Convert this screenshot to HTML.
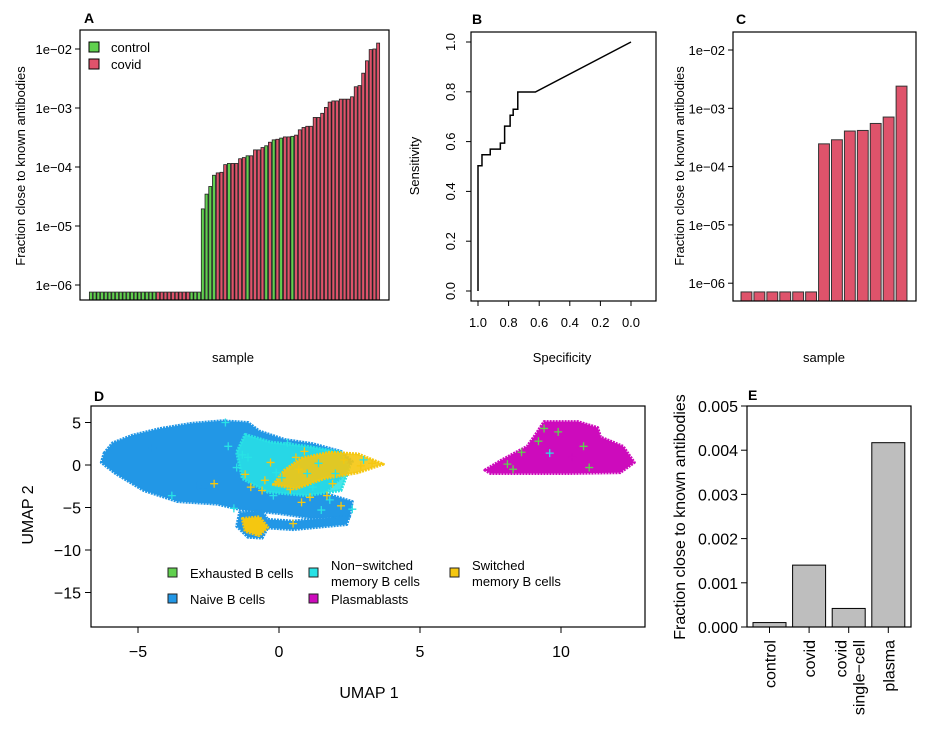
<!DOCTYPE html>
<html><head><meta charset="utf-8"><style>
html,body{margin:0;padding:0;background:#fff}
svg{display:block;font-family:"Liberation Sans",Arial,sans-serif}
</style></head><body>
<svg id="fig" width="932" height="731" viewBox="0 0 932 731" xmlns="http://www.w3.org/2000/svg">
<rect width="932" height="731" fill="#fff"/>
</svg>
<script>
// ---------- DATA ----------
const aBaseCount = 30;
const aBaseLog = -6.12;
const aBaseColors = "GGGGGGGGGGGGGGGGGGRRRRRRRRRGGG";
const aRiseLog = [-4.71,-4.46,-4.33,-4.14,-4.10,-4.09,-3.96,-3.94,-3.94,-3.94,-3.86,-3.84,-3.81,-3.81,-3.71,-3.71,-3.67,-3.64,-3.58,-3.54,-3.53,-3.51,-3.49,-3.49,-3.48,-3.46,-3.37,-3.33,-3.31,-3.31,-3.16,-3.16,-3.09,-2.99,-2.90,-2.88,-2.88,-2.85,-2.85,-2.85,-2.81,-2.64,-2.62,-2.41,-2.20,-2.01,-2.00,-1.90];
const aRiseColors = "GGGGRRRGRRRRGRRRRGRGRGRRGRRRRRRRRRRRRRRRRRRRRRRR";
const logTicks = [-2,-3,-4,-5,-6];
const logTickLabels = ["1e\u221202","1e\u221203","1e\u221204","1e\u221205","1e\u221206"];
const rocSpec = [1,1,0.974,0.974,0.92,0.92,0.854,0.854,0.826,0.826,0.79,0.79,0.77,0.77,0.74,0.74,0.625,0];
const rocSens = [0,0.503,0.503,0.547,0.547,0.57,0.57,0.594,0.594,0.662,0.662,0.706,0.706,0.73,0.73,0.799,0.799,1];
const bTicks = [0,0.2,0.4,0.6,0.8,1.0];
const bTickLabels = ["0.0","0.2","0.4","0.6","0.8","1.0"];
const cLog = [-6.15,-6.15,-6.15,-6.15,-6.15,-6.15,-3.61,-3.54,-3.39,-3.38,-3.26,-3.15,-2.62];
const dXTicks = [-5,0,5,10];
const dYTicks = [5,0,-5,-10,-15];
const blueBlob = [[-6.2,1.4],[-5.9,2.6],[-5.2,3.5],[-4.2,4.3],[-3.1,4.9],[-2,5.2],[-1.1,5],[-0.7,4],[0.2,3],[1.2,2.5],[2.2,1.6],[2.6,0.4],[2.2,-1.5],[1.6,-3.3],[2.6,-4.3],[2.5,-6.1],[1.2,-6.3],[0,-5.7],[-1.3,-5.3],[-2.2,-4.6],[-3.6,-4.3],[-4.8,-3],[-5.8,-1],[-6.3,0.3]];
const lowerLoop = [[-1.4,-5.6],[-0.6,-5.4],[-0.4,-6.4],[0.5,-6.6],[2.5,-6.0],[2.4,-7.0],[0.5,-7.6],[-0.4,-7.4],[-0.6,-8.6],[-1.1,-8.5],[-1.5,-7.2]];
const cyanBlob = [[-1.2,3.6],[-0.3,2.7],[1,2.2],[2.2,1.5],[2.5,-0.3],[2.2,-3.0],[1,-3.6],[-0.4,-3.2],[-1.3,-1.6],[-1.5,1.5]];
const yellowBlob = [[0.8,0.8],[1.8,1.5],[2.8,1.3],[3.7,0.1],[2.8,-0.9],[1.6,-1.6],[0.6,-2.8],[-0.2,-2.3],[0.2,-0.6]];
const yellowLower = [[-1.3,-6.3],[-0.7,-6.1],[-0.4,-7.3],[-0.7,-8.3],[-1.2,-7.8]];
const magentaBlob = [[7.3,-0.6],[7.9,0.6],[8.8,2.2],[9.1,3.6],[9.4,5.1],[10.6,5.1],[11.3,4.4],[11.4,3.3],[12.2,2.2],[12.6,0.3],[12.1,-0.9],[10.2,-1],[8.6,-1],[7.5,-1]];
const plusX = [-2.3,-1.8,-1.2,-0.6,0.1,0.7,1.2,1.8,2.3,-0.9,-0.2,0.5,1.5,2.9,-1.1,0.9,3.3,-0.8,-1.3,1.1,-2.9,-1.6,0.3,2.0,8.1,8.6,9.2,9.9,10.4,11.0,8.3,9.6,10.8,7.6,9.4,-3.8,-1.9,-0.5,0.4,1.0,1.9,-1.5,-0.3,0.8,1.4,2.6,-1.0,-0.1,0.6,1.7,-0.6,2.2,3.0,-2.7,-4.5];
const plusY = [-2.2,2.2,-1.1,-3.0,-1.5,-0.5,-2.6,-4.1,0.6,-6.8,-3.6,-6.9,-5.3,-0.1,0.9,1.6,0.2,-7.9,1.2,-3.8,-2.4,-5.1,2.6,-1.0,0.1,1.5,2.8,3.9,0.9,-0.3,-0.5,1.4,2.2,-0.6,4.3,-3.6,5.0,-1.8,-2.9,-1.0,-2.2,-0.3,0.3,-4.4,0.2,-5.2,-2.6,-0.9,0.9,-3.6,-7.2,-4.8,0.6,-2.8,2.0];
const plusCat = "YCYYCYCCYYCYCYCYYYCYBCCCGGGGMGGCGMGCCYYCYCYYCCYCYYYYCBB";
const legendD = ["Exhausted B cells","Naive B cells","Non\u2212switched","memory B cells","Plasmablasts","Switched","memory B cells"];
const eCats = ["control","covid","covid single\u2212cell","plasma"];
const eVals = [0.0001,0.0014,0.00042,0.00417];
const eTicks = [0,0.001,0.002,0.003,0.004,0.005];
const eTickLabels = ["0.000","0.001","0.002","0.003","0.004","0.005"];

const COL = {G:"#61D04F",R:"#DF536B",B:"#2297E6",C:"#28E2E5",M:"#CD0BBC",Y:"#F5C710"};
const svg = document.getElementById('fig');
const NS = "http://www.w3.org/2000/svg";
function mk(tag, attrs, parent){ const e=document.createElementNS(NS,tag); for(const k in attrs) e.setAttribute(k,attrs[k]); (parent||svg).appendChild(e); return e; }
function txt(s, x, y, size, opts, parent){ const e=mk('text',Object.assign({x:x,y:y,'font-size':size,fill:'#000'},opts||{}),parent); e.textContent=s; return e; }
function group(name){ const g=mk('g',{});   return g; }

// ---------- PANEL A ----------
(function(){
  const g = group('panel-a');
  const L=80,R=389,T=30,B=300;
  const ya = v => 49 + (-2 - v)*59;
  const n = aBaseCount + aRiseLog.length;
  const x0=89, x1=380, slot=(x1-x0)/n;
  for(let i=0;i<n;i++){
    const v = i<aBaseCount ? aBaseLog : aRiseLog[i-aBaseCount];
    const c = i<aBaseCount ? aBaseColors[i] : aRiseColors[i-aBaseCount];
    const r = mk('rect',{x:x0+i*slot+slot*0.1,y:ya(v),width:slot*0.8,height:B-ya(v),fill:COL[c],stroke:'#222','stroke-width':0.8},g);
    
    
  }
  mk('rect',{x:L,y:T,width:R-L,height:B-T,fill:'none',stroke:'#000','stroke-width':1.2},g);
  logTicks.forEach((t,i)=>{ mk('line',{x1:L-5,x2:L,y1:ya(t),y2:ya(t),stroke:'#000'},g); txt(logTickLabels[i],L-8,ya(t)+5,13,{'text-anchor':'end'},g); });
  txt('Fraction close to known antibodies',0,0,13,{'text-anchor':'middle',transform:'translate(25,166) rotate(-90)'},g);
  txt('sample',233,362,13,{'text-anchor':'middle'},g);
  txt('A',84,23,14,{'font-weight':'bold'},g);
  mk('rect',{x:89,y:42,width:10,height:10,fill:COL.G,stroke:'#000'},g);
  mk('rect',{x:89,y:59,width:10,height:10,fill:COL.R,stroke:'#000'},g);
  txt('control',111,52,13,{},g);
  txt('covid',111,69,13,{},g);
})();

// ---------- PANEL B ----------
(function(){
  const g = group('panel-b');
  const L=471,R=656,T=32,B=301;
  const xb = s => 478 + (1-s)*153;
  const yb = v => 291 - v*249;
  mk('rect',{x:L,y:T,width:R-L,height:B-T,fill:'none',stroke:'#000','stroke-width':1.2},g);
  let d=''; rocSpec.forEach((s,i)=>{ d += (i?'L':'M')+xb(s)+' '+yb(rocSens[i]); });
  const p = mk('path',{d:d,fill:'none',stroke:'#000','stroke-width':1.5},g);
  
  
  bTicks.forEach((t,i)=>{
    mk('line',{x1:L-5,x2:L,y1:yb(t),y2:yb(t),stroke:'#000'},g);
    txt(bTickLabels[i],0,0,13,{'text-anchor':'middle',transform:`translate(${L-16},${yb(t)}) rotate(-90)`},g);
    mk('line',{x1:xb(t),x2:xb(t),y1:B,y2:B+5,stroke:'#000'},g);
    txt(bTickLabels[i],xb(t),B+26,13,{'text-anchor':'middle'},g);
  });
  txt('Sensitivity',0,0,13,{'text-anchor':'middle',transform:'translate(419,166) rotate(-90)'},g);
  txt('Specificity',562,362,13,{'text-anchor':'middle'},g);
  txt('B',472,24,14,{'font-weight':'bold'},g);
})();

// ---------- PANEL C ----------
(function(){
  const g = group('panel-c');
  const L=733,R=916,T=32,B=301;
  const yc = v => 50 + (-2 - v)*58.3;
  const x0=740, x1=908, slot=(x1-x0)/cLog.length;
  cLog.forEach((v,i)=>{
    const r=mk('rect',{x:x0+i*slot+slot*0.08,y:yc(v),width:slot*0.84,height:B-yc(v),fill:COL.R,stroke:'#333','stroke-width':1},g);
    
    
  });
  mk('rect',{x:L,y:T,width:R-L,height:B-T,fill:'none',stroke:'#000','stroke-width':1.2},g);
  logTicks.forEach((t,i)=>{ mk('line',{x1:L-5,x2:L,y1:yc(t),y2:yc(t),stroke:'#000'},g); txt(logTickLabels[i],L-8,yc(t)+5,13,{'text-anchor':'end'},g); });
  txt('Fraction close to known antibodies',0,0,13,{'text-anchor':'middle',transform:'translate(684,166) rotate(-90)'},g);
  txt('sample',824,362,13,{'text-anchor':'middle'},g);
  txt('C',736,24,14,{'font-weight':'bold'},g);
})();

// ---------- PANEL D ----------
(function(){
  const g = group('panel-d');
  const L=91,R=645,T=406,B=627;
  const xd = v => 279 + v*28.2;
  const yd = v => 465 - v*8.5;
  const poly = (pts,col,name,op)=>{ const p=mk('polygon',{points:pts.map(q=>xd(q[0])+','+yd(q[1])).join(' '),fill:col,stroke:col,'stroke-width':3,'stroke-linejoin':'round','stroke-dasharray':'2 1','fill-opacity':op||1},g);   };
  poly(blueBlob,COL.B,'naive-cluster');
  poly(lowerLoop,COL.B,'naive-lower-loop');
  poly(cyanBlob,COL.C,'nonswitched-cluster',0.85);
  poly(yellowBlob,COL.Y,'switched-cluster',0.9);
  poly(yellowLower,COL.Y,'switched-lower-cluster');
  poly(magentaBlob,COL.M,'plasmablast-cluster');
  plusX.forEach((px,i)=>{
    const cx=xd(px), cy=yd(plusY[i]), c=COL[plusCat[i]];
    const pp=mk('path',{d:`M${cx-4} ${cy}H${cx+4}M${cx} ${cy-4}V${cy+4}`,stroke:c,'stroke-width':1.3},g);
    
    
  });
  mk('rect',{x:L,y:T,width:R-L,height:B-T,fill:'none',stroke:'#000','stroke-width':1.2},g);
  dXTicks.forEach(t=>{ mk('line',{x1:xd(t),x2:xd(t),y1:B,y2:B+6,stroke:'#000'},g); txt(String(t).replace('-','\u2212'),xd(t),B+30,16,{'text-anchor':'middle'},g); });
  dYTicks.forEach(t=>{ mk('line',{x1:L-6,x2:L,y1:yd(t),y2:yd(t),stroke:'#000'},g); txt(String(t).replace('-','\u2212'),L-10,yd(t)+6,16,{'text-anchor':'end'},g); });
  txt('UMAP 1',369,698,16,{'text-anchor':'middle'},g);
  txt('UMAP 2',0,0,16,{'text-anchor':'middle',transform:'translate(33,515) rotate(-90)'},g);
  txt('D',94,401,14,{'font-weight':'bold'},g);
  const lg=[[168,578,COL.G,[legendD[0]]],[168,604,COL.B,[legendD[1]]],[309,578,COL.C,[legendD[2],legendD[3]]],[309,604,COL.M,[legendD[4]]],[450,578,COL.Y,[legendD[5],legendD[6]]]];
  lg.forEach(e=>{
    mk('rect',{x:e[0],y:e[1]-10,width:9,height:9,fill:e[2],stroke:'#222'},g);
    if(e[3].length===1){ const t=txt(e[3][0],e[0]+22,e[1],13,{},g);  }
    else { txt(e[3][0],e[0]+22,e[1]-8,13,{},g); txt(e[3][1],e[0]+22,e[1]+8,13,{},g); }
  });
})();

// ---------- PANEL E ----------
(function(){
  const g = group('panel-e');
  const L=747,R=911,T=406,B=627;
  const ye = v => B - v/0.005*(B-T);
  eVals.forEach((v,i)=>{
    const bx = 753 + i*39.6;
    const r=mk('rect',{x:bx,y:ye(v),width:33,height:B-ye(v),fill:'#BEBEBE',stroke:'#000','stroke-width':1},g);
    
    
    const cx=bx+16.5;
    mk('line',{x1:cx,x2:cx,y1:B,y2:B+6,stroke:'#000'},g);
    const parts=eCats[i].split(' ');
    parts.forEach((p,j)=>{ txt(p,0,0,16,{'text-anchor':'end',transform:`translate(${cx+6+(parts.length>1?(j===0?-8:10):0)},${B+13}) rotate(-90)`},g); });
  });
  mk('rect',{x:L,y:T,width:R-L,height:B-T,fill:'none',stroke:'#000','stroke-width':1.2},g);
  eTicks.forEach((t,i)=>{ mk('line',{x1:L-6,x2:L,y1:ye(t),y2:ye(t),stroke:'#000'},g); txt(eTickLabels[i],L-9,ye(t)+6,16,{'text-anchor':'end'},g); });
  txt('Fraction close to known antibodies',0,0,16,{'text-anchor':'middle',transform:'translate(685,517) rotate(-90)'},g);
  txt('E',748,400,14,{'font-weight':'bold'},g);
})();
</script>
</body></html>
